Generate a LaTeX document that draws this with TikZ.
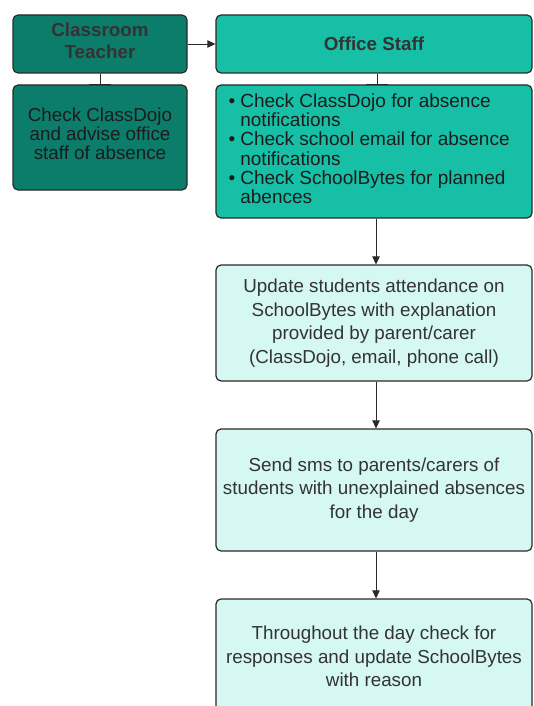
\documentclass[tikz,border=0pt]{standalone}
\usepackage{fontspec}
\setmainfont{Liberation Sans}
\usetikzlibrary{arrows.meta}
\definecolor{darkteal}{HTML}{0C7C6B}
\definecolor{midteal}{HTML}{17BFA6}
\definecolor{lightteal}{HTML}{D6F8F2}
\definecolor{edge}{HTML}{2A2A2A}
\definecolor{txtdark}{HTML}{1C1C1C}
\definecolor{txtgray}{HTML}{333333}
\tikzset{
  box/.style={draw=edge, line width=1.2pt, rounded corners=5pt, inner sep=0pt, align=center,
    font=\fontsize{18.8}{18.8}\selectfont},
  dbox/.style={box, fill=darkteal, text=txtdark},
  mbox/.style={box, fill=midteal, text=txtdark},
  lbox/.style={box, fill=lightteal, text=txtgray, font=\fontsize{18.8}{23.6}\selectfont},
  txt/.style={inner sep=0pt, align=center, text=txtdark, font=\fontsize{18.8}{18.8}\selectfont},
  hdr/.style={inner sep=0pt, align=center, font=\fontsize{18.8}{22}\selectfont\bfseries, text=txtgray},
  conn/.style={draw=edge, line width=0.9pt, -{Triangle[length=8pt,width=7.5pt]}},
  tconn/.style={draw=edge, line width=0.9pt, -{Bar[width=22pt,line width=1.6pt]}}
}
\begin{document}
\begin{tikzpicture}[x=1pt,y=-1pt]
\useasboundingbox (0,0) rectangle (533,706);
\clip (0,0) rectangle (533,706);
\fill[white] (0,0) rectangle (533,706);
% left column
\node[dbox, minimum width=174pt, minimum height=58pt] (teacher) at (100,44) {};
\node[hdr] (teachertext) at (100,41) {Classroom\\Teacher};
\node[dbox, minimum width=174pt, minimum height=105pt] (dojo) at (100,137.5) {};
\node[txt] (dojotext) at (100,133.5) {Check ClassDojo\\and advise office\\staff of absence};
% right column
\node[mbox, minimum width=316pt, minimum height=58pt] (office) at (374,44) {};
\node[hdr] (officetext) at (374,43.5) {Office Staff};
\node[mbox, minimum width=316pt, minimum height=133pt] (checks) at (374,151.5) {};
\node[txt, align=left, anchor=north west, font=\fontsize{19}{18.3}\selectfont] (checkstext) at (228.5,93.5)
  {\begin{tabular}{@{}l@{\hspace{5pt}}l@{}}
   \textbullet & Check ClassDojo for absence\\
               & notifications\\
   \textbullet & Check school email for absence\\
               & notifications\\
   \textbullet & Check SchoolBytes for planned\\
               & abences
  \end{tabular}};
\node[lbox, minimum width=316pt, minimum height=116pt] (update) at (374,323)
  {Update students attendance on\\SchoolBytes with explanation\\provided by parent/carer\\(ClassDojo, email, phone call)};
\node[lbox, minimum width=316pt, minimum height=122pt] (sms) at (374,490)
  {Send sms to parents/carers of\\students with unexplained absences\\for the day};
\node[lbox, minimum width=316pt, minimum height=115pt] (through) at (374,656.5)
  {Throughout the day check for\\responses and update SchoolBytes\\with reason};
% connectors
\draw[conn] (teacher.east) -- (office.west);
\draw[tconn] (teacher.south) -- ([yshift=-1pt]dojo.north);
\draw[tconn] ([xshift=3pt]office.south) -- ([xshift=3pt,yshift=-1pt]checks.north);
\draw[conn] ([xshift=2pt]checks.south) -- ([xshift=2pt]update.north);
\draw[conn] ([xshift=2pt]update.south) -- ([xshift=2pt]sms.north);
\draw[conn] ([xshift=2pt]sms.south) -- ([xshift=2pt]through.north);
\end{tikzpicture}
\end{document}
